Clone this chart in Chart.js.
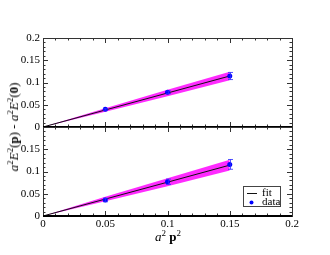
<!DOCTYPE html>
<html>
<head>
<meta charset="utf-8">
<script src="https://cdn.jsdelivr.net/npm/chart.js@4.4.0/dist/chart.umd.min.js"></script>
<style>
    body { margin: 0; background: #fff; }
    #wrap { position: relative; width: 330px; height: 255px; }
    #ytitle { position: absolute; left: 14px; top: 127px; transform: translate(-50%, -50%) rotate(-90deg);
              font: 13px "Liberation Serif"; white-space: nowrap; color: #000; }
    #xtitle { position: absolute; left: 168px; top: 237px; transform: translate(-50%, -50%);
              font: 13px "Liberation Serif"; white-space: nowrap; color: #000; }
    sup { font-size: 9px; vertical-align: 5px; line-height: 0; }
</style>
</head>
<body>
<div id="wrap">
    <canvas id="chart" width="330" height="255"></canvas>
    <div id="ytitle"><i>a</i><sup>2</sup><i>E</i><sup>2</sup>(<b>p</b>) - <i>a</i><sup>2</sup><i>E</i><sup>2</sup>(<b>0</b>)</div>
    <div id="xtitle"><i>a</i><sup>2</sup> <b>p</b><sup>2</sup></div>
</div>
<script>
// data points (x = a^2 p^2)
const xData = [0.05, 0.1, 0.15];
const topY = [0.0398, 0.078, 0.1146];
const topErr = [0.002, 0.003, 0.008];
const botY = [0.036, 0.077, 0.116];
const botErr = [0.004, 0.006, 0.011];

// fit lines and error bands
const fitX = [0, 0.05, 0.1, 0.15];
const topFit = [0, 0.0382, 0.0764, 0.1146];
const topHi = [0, 0.0422, 0.0839, 0.1241];
const topLo = [0, 0.0342, 0.0689, 0.1051];
const botFit = [0, 0.038, 0.076, 0.1143];
const botHi = [0, 0.043, 0.085, 0.1263];
const botLo = [0, 0.033, 0.067, 0.1023];

// ticks and legend
const xTicks = [0, 0.05, 0.1, 0.15, 0.2];
const topTicks = [0, 0.05, 0.1, 0.15, 0.2];
const botTicks = [0, 0.05, 0.1, 0.15];
const legendLabels = ['fit', 'data'];

const BAND = '#ff2bff';
const BLUE = '#0000ff';
const FONT = { family: 'Liberation Serif', size: 11 };

function pts(xs, ys) {
    return xs.map((x, i) => ({ x: x, y: ys[i] }));
}

// lower order is drawn on top
function panelSets(axis, fit, hi, lo, ys) {
    return [
        { label: 'hi', data: pts(fitX, hi), yAxisID: axis, fill: '+1', backgroundColor: BAND,
          borderWidth: 0, pointRadius: 0, order: 3 },
        { label: 'lo', data: pts(fitX, lo), yAxisID: axis, fill: false, borderWidth: 0, pointRadius: 0, order: 4 },
        { label: legendLabels[0], data: pts(fitX, fit), yAxisID: axis, borderColor: '#111', borderWidth: 1,
          pointRadius: 0, fill: false, order: 2 },
        { label: legendLabels[1], data: pts(xData, ys), yAxisID: axis, showLine: false, pointRadius: 2.5,
          pointBackgroundColor: BLUE, pointBorderWidth: 0, order: 1 }
    ];
}

function yScale(ticks, weight) {
    return {
        type: 'linear', position: 'left', stack: 'panels', stackWeight: 1, weight: weight,
        min: 0, max: 0.2,
        grid: { display: false, drawTicks: false },
        border: { display: false },
        afterBuildTicks: s => { s.ticks = ticks.map(v => ({ value: v })); },
        afterFit: s => { s.width = 43; },
        ticks: { font: FONT, color: '#000', padding: 3, autoSkip: false,
                 callback: v => String(+v.toFixed(2)) }
    };
}

// frames, inward ticks, error bars, legend
const decorations = {
    id: 'decorations',
    afterDatasetsDraw(chart) {
        const ctx = chart.ctx;
        const x = chart.scales.x;
        ctx.save();
        ctx.strokeStyle = 'rgba(40,40,255,0.8)';
        ctx.lineWidth = 1;
        [['yTop', topY, topErr], ['yBot', botY, botErr]].forEach(([id, ys, errs]) => {
            const y = chart.scales[id];
            xData.forEach((xv, i) => {
                const px = Math.round(x.getPixelForValue(xv)) + 0.5;
                const y1 = y.getPixelForValue(ys[i] + errs[i]);
                const y2 = y.getPixelForValue(ys[i] - errs[i]);
                ctx.beginPath();
                ctx.moveTo(px, y1); ctx.lineTo(px, y2);
                ctx.moveTo(px - 2.5, y1); ctx.lineTo(px + 2.5, y1);
                ctx.moveTo(px - 2.5, y2); ctx.lineTo(px + 2.5, y2);
                ctx.stroke();
            });
        });
        ctx.restore();
    },
    afterDraw(chart) {
        const ctx = chart.ctx;
        const x = chart.scales.x;
        ctx.save();
        ['yTop', 'yBot'].forEach(id => {
            const y = chart.scales[id];
            const L = x.left, R = x.right, T = y.top, B = y.bottom;
            ctx.strokeStyle = '#333';
            ctx.lineWidth = 1;
            ctx.beginPath();
            for (let k = 0; k <= 20; k++) {
                const len = k % 5 === 0 ? 5 : 2.5;
                const px = Math.round(x.getPixelForValue(k / 100)) + 0.5;
                ctx.moveTo(px, T); ctx.lineTo(px, T + len);
                ctx.moveTo(px, B); ctx.lineTo(px, B - len);
                const py = Math.round(y.getPixelForValue(k / 100)) + 0.5;
                ctx.moveTo(L, py); ctx.lineTo(L + len, py);
                ctx.moveTo(R, py); ctx.lineTo(R - len, py);
            }
            ctx.stroke();
            ctx.strokeRect(Math.round(L) + 0.5, Math.round(T) + 0.5, Math.round(R - L), Math.round(B - T));
            ctx.strokeStyle = '#000';
            ctx.lineWidth = 2;
            ctx.beginPath();
            ctx.moveTo(L, Math.round(B)); ctx.lineTo(R, Math.round(B));
            ctx.stroke();
        });

        // legend box
        ctx.fillStyle = '#fff';
        ctx.fillRect(243, 186, 38, 21);
        ctx.strokeStyle = '#444';
        ctx.lineWidth = 1;
        ctx.strokeRect(243.5, 186.5, 37, 20);
        ctx.strokeStyle = '#111';
        ctx.beginPath();
        ctx.moveTo(247, 193.5); ctx.lineTo(257, 193.5);
        ctx.stroke();
        ctx.fillStyle = BLUE;
        ctx.beginPath();
        ctx.arc(251.5, 202.5, 2, 0, Math.PI * 2);
        ctx.fill();
        ctx.fillStyle = '#000';
        ctx.font = '11px "Liberation Serif"';
        ctx.textBaseline = 'middle';
        ctx.fillText(legendLabels[0], 262, 193);
        ctx.fillText(legendLabels[1], 262, 202);
        ctx.restore();
    }
};

new Chart(document.getElementById('chart'), {
    type: 'line',
    data: {
        datasets: panelSets('yTop', topFit, topHi, topLo, topY)
            .concat(panelSets('yBot', botFit, botHi, botLo, botY))
    },
    options: {
        responsive: false,
        animation: false,
        events: [],
        layout: { padding: { left: 0, top: 38, right: 38, bottom: 0 } },
        elements: { line: { tension: 0 } },
        plugins: { legend: { display: false }, tooltip: { enabled: false } },
        scales: {
            x: {
                type: 'linear', min: 0, max: 0.2,
                grid: { display: false, drawTicks: false },
                border: { display: false },
                afterBuildTicks: s => { s.ticks = xTicks.map(v => ({ value: v })); },
                afterFit: s => { s.height = 39; },
                ticks: { font: FONT, color: '#000', padding: 2, maxRotation: 0, autoSkip: false,
                         callback: v => String(+v.toFixed(2)) }
            },
            yTop: yScale(topTicks, 1),
            yBot: yScale(botTicks, 0)
        }
    },
    plugins: [decorations]
});
</script>
</body>
</html>
